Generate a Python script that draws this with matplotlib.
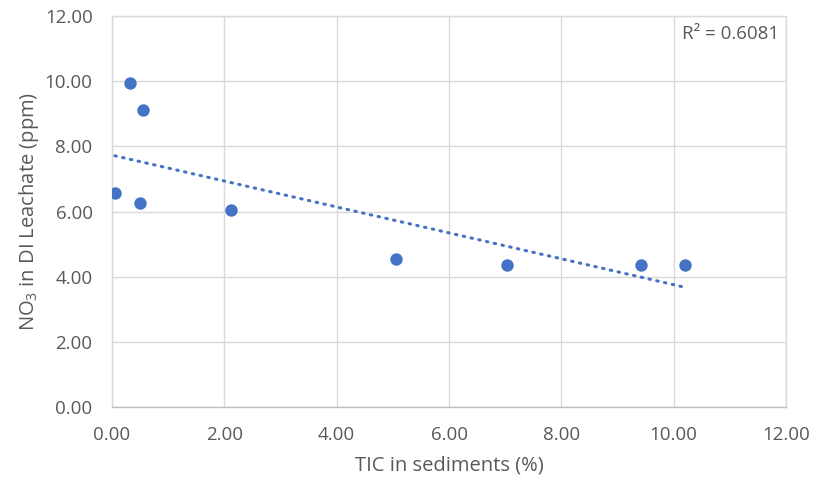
import numpy as np
import matplotlib
matplotlib.use("Agg")
import matplotlib.pyplot as plt

# TIC content (%) and NO3 in DI leachate (ppm)
tic = [0.05, 0.32, 0.55, 0.50, 2.12, 5.06, 7.03, 9.42, 10.21]
no3 = [6.56, 9.93, 9.11, 6.26, 6.04, 4.54, 4.37, 4.37, 4.37]
r2_label = "R² = 0.6081"
ticks = [0, 2, 4, 6, 8, 10, 12]

plt.rcParams['font.family'] = ['Open Sans', 'DejaVu Sans']
plt.rcParams['mathtext.fontset'] = 'custom'
plt.rcParams['mathtext.rm'] = 'Open Sans'
plt.rcParams['mathtext.it'] = 'Open Sans:italic'

text_col = '#595959'
blue = '#4472C4'
grid_col = '#d9d9d9'

fig = plt.figure(figsize=(8.16, 4.87), dpi=100)
ax = fig.add_axes([0.1373, 0.1643, 0.8259, 0.8028])

ax.scatter(tic, no3, s=80, color=blue, zorder=3, linewidths=0)

# Linear trendline across the data range
x = np.array(tic)
y = np.array(no3)
slope, intercept = np.polyfit(x, y, 1)
xs = np.array([x.min(), x.max()])
ax.plot(xs, slope * xs + intercept, color=blue, lw=2.2,
        linestyle=(0, (0.5, 2.1)), dash_capstyle='round', zorder=2)

ax.set_xlim(0, 12)
ax.set_ylim(0, 12)
ax.set_xticks(ticks)
ax.set_yticks(ticks)
ax.set_xticklabels([f"{t:.2f}" for t in ticks])
ax.set_yticklabels([f"{t:.2f}" for t in ticks])
ax.tick_params(length=0, labelsize=13.5, labelcolor=text_col)
ax.tick_params(axis='x', pad=14)
ax.tick_params(axis='y', pad=14)

ax.grid(True, color=grid_col, lw=1)
ax.set_axisbelow(True)
for side in ['left', 'right', 'top']:
    ax.spines[side].set_color(grid_col)
    ax.spines[side].set_linewidth(1)
ax.spines['bottom'].set_color('#bfbfbf')
ax.spines['bottom'].set_linewidth(1)

ax.set_xlabel("TIC in sediments (%)", fontsize=14.5, color=text_col, labelpad=8)
ax.set_ylabel(r"NO$_\mathregular{3}$ in DI Leachate (ppm)", fontsize=14.5,
              color=text_col, labelpad=3)

ax.text(0.846, 0.955, r2_label, transform=ax.transAxes, ha='left', va='center',
        fontsize=13.5, color=text_col)

fig.savefig("out.png", dpi=100)
